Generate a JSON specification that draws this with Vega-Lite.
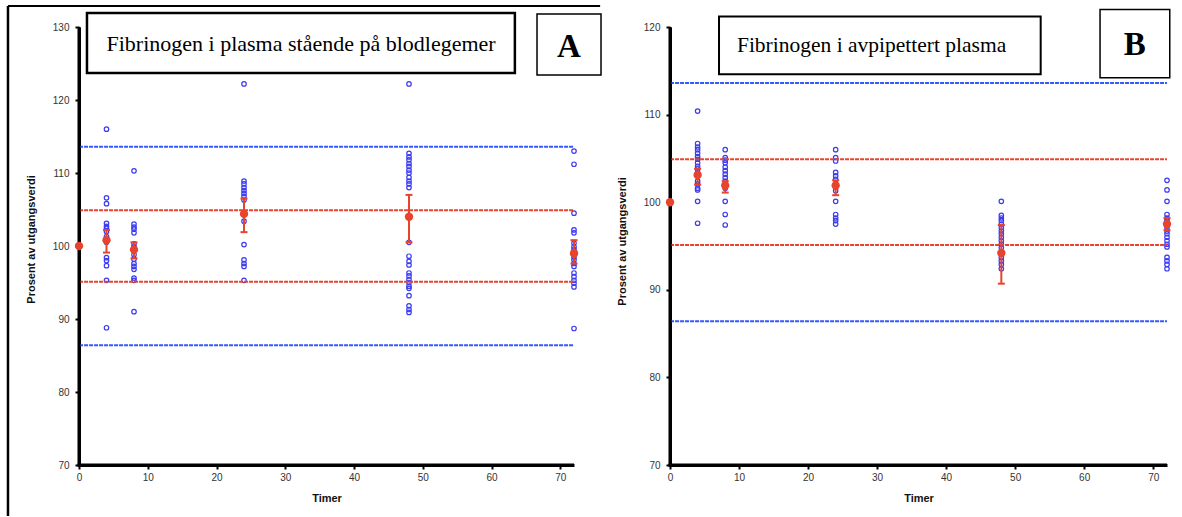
{
  "$schema": "https://vega.github.io/schema/vega-lite/v6.json",
  "padding": {"left": 6, "top": 4, "right": 0, "bottom": 0},
  "spacing": 14,
  "background": "white",
  "config": {
    "view": {"stroke": null},
    "axis": {
      "grid": false,
      "domainColor": "#000000",
      "domainWidth": 3,
      "tickColor": "#000000",
      "tickSize": 4,
      "tickWidth": 2,
      "labelFont": "Liberation Sans",
      "labelFontSize": 10,
      "labelColor": "#333",
      "titleFont": "Liberation Sans",
      "titleFontSize": 11,
      "titleFontWeight": "bold",
      "titleColor": "#111"
    },
    "axisY": {"labelPadding": 6},
    "axisX": {"labelPadding": 3, "titlePadding": 10, "labelFlush": false}
  },
  "datasets": {
    "refs": [
      {"v": 113.6, "kind": "ytre"},
      {"v": 86.4, "kind": "ytre"},
      {"v": 104.9, "kind": "indre"},
      {"v": 95.1, "kind": "indre"}
    ],
    "ptsA": [
      {"t": 4, "v": 116.0}, {"t": 4, "v": 106.6}, {"t": 4, "v": 105.8}, {"t": 4, "v": 103.1}, {"t": 4, "v": 102.7},
      {"t": 4, "v": 102.4}, {"t": 4, "v": 102.0}, {"t": 4, "v": 101.3}, {"t": 4, "v": 100.5}, {"t": 4, "v": 98.4},
      {"t": 4, "v": 98.0}, {"t": 4, "v": 97.3}, {"t": 4, "v": 95.3}, {"t": 4, "v": 88.8},
      {"t": 8, "v": 110.3}, {"t": 8, "v": 103.0}, {"t": 8, "v": 102.6}, {"t": 8, "v": 102.3}, {"t": 8, "v": 101.8},
      {"t": 8, "v": 100.3}, {"t": 8, "v": 99.9}, {"t": 8, "v": 98.8}, {"t": 8, "v": 98.2}, {"t": 8, "v": 97.6},
      {"t": 8, "v": 97.2}, {"t": 8, "v": 96.8}, {"t": 8, "v": 95.6}, {"t": 8, "v": 95.3}, {"t": 8, "v": 91.0},
      {"t": 24, "v": 122.2}, {"t": 24, "v": 108.9}, {"t": 24, "v": 108.5}, {"t": 24, "v": 108.0}, {"t": 24, "v": 107.6},
      {"t": 24, "v": 107.2}, {"t": 24, "v": 106.8}, {"t": 24, "v": 106.3}, {"t": 24, "v": 103.4}, {"t": 24, "v": 100.2},
      {"t": 24, "v": 98.1}, {"t": 24, "v": 97.6}, {"t": 24, "v": 97.2}, {"t": 24, "v": 95.3},
      {"t": 48, "v": 122.2}, {"t": 48, "v": 112.7}, {"t": 48, "v": 112.2}, {"t": 48, "v": 111.8}, {"t": 48, "v": 111.3},
      {"t": 48, "v": 110.9}, {"t": 48, "v": 110.4}, {"t": 48, "v": 110.0}, {"t": 48, "v": 109.4}, {"t": 48, "v": 108.9},
      {"t": 48, "v": 108.5}, {"t": 48, "v": 108.0}, {"t": 48, "v": 100.5}, {"t": 48, "v": 98.6}, {"t": 48, "v": 97.9},
      {"t": 48, "v": 97.4}, {"t": 48, "v": 96.3}, {"t": 48, "v": 95.9}, {"t": 48, "v": 95.4}, {"t": 48, "v": 95.0},
      {"t": 48, "v": 94.5}, {"t": 48, "v": 94.2}, {"t": 48, "v": 93.2}, {"t": 48, "v": 91.8}, {"t": 48, "v": 91.3},
      {"t": 48, "v": 90.9},
      {"t": 72, "v": 113.0}, {"t": 72, "v": 111.2}, {"t": 72, "v": 104.5}, {"t": 72, "v": 102.2}, {"t": 72, "v": 101.8},
      {"t": 72, "v": 100.4}, {"t": 72, "v": 99.9}, {"t": 72, "v": 99.5}, {"t": 72, "v": 99.0}, {"t": 72, "v": 98.5},
      {"t": 72, "v": 98.1}, {"t": 72, "v": 97.6}, {"t": 72, "v": 97.2}, {"t": 72, "v": 96.3}, {"t": 72, "v": 95.8},
      {"t": 72, "v": 95.3}, {"t": 72, "v": 94.9}, {"t": 72, "v": 94.4}, {"t": 72, "v": 88.7}
    ],
    "meanA": [
      {"t": 0, "m": 100.0},
      {"t": 4, "m": 100.8, "lo": 99.1, "hi": 102.2},
      {"t": 8, "m": 99.5, "lo": 98.3, "hi": 100.5},
      {"t": 24, "m": 104.4, "lo": 101.9, "hi": 106.5},
      {"t": 48, "m": 104.0, "lo": 100.5, "hi": 107.0},
      {"t": 72, "m": 99.0, "lo": 97.6, "hi": 100.8}
    ],
    "ptsB": [
      {"t": 4, "v": 110.4}, {"t": 4, "v": 106.7}, {"t": 4, "v": 106.3}, {"t": 4, "v": 106.0}, {"t": 4, "v": 105.6},
      {"t": 4, "v": 105.2}, {"t": 4, "v": 104.9}, {"t": 4, "v": 104.5}, {"t": 4, "v": 104.1}, {"t": 4, "v": 103.8},
      {"t": 4, "v": 103.4}, {"t": 4, "v": 102.4}, {"t": 4, "v": 102.1}, {"t": 4, "v": 101.6}, {"t": 4, "v": 101.4},
      {"t": 4, "v": 100.1}, {"t": 4, "v": 97.6},
      {"t": 8, "v": 106.0}, {"t": 8, "v": 105.1}, {"t": 8, "v": 104.8}, {"t": 8, "v": 104.5}, {"t": 8, "v": 104.0},
      {"t": 8, "v": 103.6}, {"t": 8, "v": 103.2}, {"t": 8, "v": 102.8}, {"t": 8, "v": 102.4}, {"t": 8, "v": 101.6},
      {"t": 8, "v": 100.1}, {"t": 8, "v": 98.6}, {"t": 8, "v": 97.4},
      {"t": 24, "v": 106.0}, {"t": 24, "v": 105.1}, {"t": 24, "v": 104.7}, {"t": 24, "v": 103.4}, {"t": 24, "v": 103.0},
      {"t": 24, "v": 102.6}, {"t": 24, "v": 101.3}, {"t": 24, "v": 100.1}, {"t": 24, "v": 98.6}, {"t": 24, "v": 98.2},
      {"t": 24, "v": 97.9}, {"t": 24, "v": 97.5},
      {"t": 48, "v": 100.1}, {"t": 48, "v": 98.5}, {"t": 48, "v": 98.2}, {"t": 48, "v": 97.9}, {"t": 48, "v": 97.5},
      {"t": 48, "v": 97.1}, {"t": 48, "v": 96.7}, {"t": 48, "v": 96.4}, {"t": 48, "v": 96.0}, {"t": 48, "v": 95.6},
      {"t": 48, "v": 95.2}, {"t": 48, "v": 94.8}, {"t": 48, "v": 93.7}, {"t": 48, "v": 93.3}, {"t": 48, "v": 92.9},
      {"t": 48, "v": 92.4},
      {"t": 72, "v": 102.5}, {"t": 72, "v": 101.4}, {"t": 72, "v": 100.1}, {"t": 72, "v": 98.6}, {"t": 72, "v": 98.2},
      {"t": 72, "v": 97.9}, {"t": 72, "v": 97.5}, {"t": 72, "v": 97.1}, {"t": 72, "v": 96.7}, {"t": 72, "v": 96.4},
      {"t": 72, "v": 96.0}, {"t": 72, "v": 95.6}, {"t": 72, "v": 95.2}, {"t": 72, "v": 94.9}, {"t": 72, "v": 93.7},
      {"t": 72, "v": 93.3}, {"t": 72, "v": 92.9}, {"t": 72, "v": 92.4}
    ],
    "meanB": [
      {"t": 0, "m": 100.0},
      {"t": 4, "m": 103.1, "lo": 102.0, "hi": 103.8},
      {"t": 8, "m": 101.9, "lo": 101.1, "hi": 102.4},
      {"t": 24, "m": 101.9, "lo": 100.8, "hi": 102.5},
      {"t": 48, "m": 94.2, "lo": 90.7, "hi": 97.4},
      {"t": 72, "m": 97.5, "lo": 96.8, "hi": 98.2}
    ],
    "titleA": [{"label": "Fibrinogen i plasma stående på blodlegemer", "tag": "A"}],
    "titleB": [{"label": "Fibrinogen i avpipettert plasma", "tag": "B"}]
  },
  "hconcat": [
    {
      "width": 495,
      "height": 438,
      "layer": [
        {
          "data": {"name": "ptsA"},
          "mark": {"type": "point", "filled": false, "size": 20, "strokeWidth": 1.2, "color": "#3b3bf2", "opacity": 1},
          "encoding": {
            "x": {"field": "t", "type": "quantitative", "scale": {"domain": [0, 72], "nice": false, "zero": false},
                  "axis": {"values": [0, 10, 20, 30, 40, 50, 60, 70], "title": "Timer"}},
            "y": {"field": "v", "type": "quantitative", "scale": {"domain": [70, 130], "nice": false, "zero": false},
                  "axis": {"values": [70, 80, 90, 100, 110, 120, 130], "title": "Prosent av utgangsverdi", "titleX": -48, "titleY": 212, "titleBaseline": "middle"}}
          }
        },
        {
          "data": {"name": "refs"},
          "mark": {"type": "rule", "strokeWidth": 2, "strokeDash": [4, 1]},
          "encoding": {
            "y": {"field": "v", "type": "quantitative"},
            "x": {"datum": 0.01},
            "x2": {"datum": 72},
            "color": {"field": "kind", "type": "nominal", "scale": {"domain": ["ytre", "indre"], "range": ["#3458ff", "#e8432d"]}, "legend": null}
          }
        },
        {
          "data": {"name": "titleA"},
          "mark": {"type": "rect", "fill": "#000000", "opacity": 1, "strokeWidth": 0},
          "encoding": {"x": {"datum": -0.22}, "x2": {"datum": 0.22}, "y": {"datum": 69.8}, "y2": {"datum": 130}}
        },
        {
          "data": {"name": "titleA"},
          "mark": {"type": "rect", "fill": "#000000", "opacity": 1, "strokeWidth": 0},
          "encoding": {"x": {"datum": -0.22}, "x2": {"datum": 72}, "y": {"datum": 69.8}, "y2": {"datum": 70.2}}
        },
        {
          "data": {"name": "meanA"},
          "transform": [{"filter": "isValid(datum.lo)"}],
          "mark": {"type": "rule", "color": "#e8432d", "strokeWidth": 2},
          "encoding": {"x": {"field": "t", "type": "quantitative"}, "y": {"field": "lo", "type": "quantitative"}, "y2": {"field": "hi"}}
        },
        {
          "data": {"name": "meanA"},
          "transform": [{"filter": "isValid(datum.lo)"}],
          "mark": {"type": "tick", "orient": "horizontal", "size": 7, "thickness": 2, "color": "#e8432d", "opacity": 1},
          "encoding": {"x": {"field": "t", "type": "quantitative"}, "y": {"field": "lo", "type": "quantitative"}}
        },
        {
          "data": {"name": "meanA"},
          "transform": [{"filter": "isValid(datum.hi)"}],
          "mark": {"type": "tick", "orient": "horizontal", "size": 7, "thickness": 2, "color": "#e8432d", "opacity": 1},
          "encoding": {"x": {"field": "t", "type": "quantitative"}, "y": {"field": "hi", "type": "quantitative"}}
        },
        {
          "data": {"name": "meanA"},
          "mark": {"type": "circle", "size": 70, "color": "#e8432d", "opacity": 1},
          "encoding": {"x": {"field": "t", "type": "quantitative"}, "y": {"field": "m", "type": "quantitative"}}
        },
        {
          "data": {"name": "titleA"},
          "mark": {"type": "rect", "fill": "white", "stroke": "black", "strokeWidth": 2.5},
          "encoding": {"x": {"datum": 1.16}, "x2": {"datum": 63.4}, "y": {"datum": 131.92}, "y2": {"datum": 123.7}}
        },
        {
          "data": {"name": "titleA"},
          "mark": {"type": "text", "font": "Liberation Serif", "fontSize": 22, "color": "black", "align": "center", "baseline": "alphabetic"},
          "encoding": {"text": {"field": "label"}, "x": {"datum": 32.3}, "y": {"datum": 126.7}}
        },
        {
          "data": {"name": "titleA"},
          "mark": {"type": "rect", "fill": "white", "stroke": "black", "strokeWidth": 1.5},
          "encoding": {"x": {"datum": 66.62}, "x2": {"datum": 75.93}, "y": {"datum": 131.78}, "y2": {"datum": 123.42}}
        },
        {
          "data": {"name": "titleA"},
          "mark": {"type": "text", "font": "Liberation Serif", "fontSize": 33, "fontWeight": "bold", "color": "black", "align": "center", "baseline": "alphabetic"},
          "encoding": {"text": {"field": "tag"}, "x": {"datum": 71.27}, "y": {"datum": 125.9}}
        },
        {
          "data": {"name": "titleA"},
          "mark": {"type": "rule", "color": "black", "strokeWidth": 2},
          "encoding": {"x": {"datum": -10.33}, "x2": {"datum": 75.8}, "y": {"datum": 132.88}}
        },
        {
          "data": {"name": "titleA"},
          "mark": {"type": "rule", "color": "black", "strokeWidth": 2.5},
          "encoding": {"x": {"datum": -10.33}, "y": {"datum": 132.88}, "y2": {"datum": 63.0}}
        }
      ]
    },
    {
      "width": 497,
      "height": 438,
      "layer": [
        {
          "data": {"name": "ptsB"},
          "mark": {"type": "point", "filled": false, "size": 20, "strokeWidth": 1.2, "color": "#3b3bf2", "opacity": 1},
          "encoding": {
            "x": {"field": "t", "type": "quantitative", "scale": {"domain": [0, 72], "nice": false, "zero": false},
                  "axis": {"values": [0, 10, 20, 30, 40, 50, 60, 70], "title": "Timer"}},
            "y": {"field": "v", "type": "quantitative", "scale": {"domain": [70, 120], "nice": false, "zero": false},
                  "axis": {"values": [70, 80, 90, 100, 110, 120], "title": "Prosent av utgangsverdi", "titleX": -48, "titleY": 214, "titleBaseline": "middle"}}
          }
        },
        {
          "data": {"name": "refs"},
          "mark": {"type": "rule", "strokeWidth": 2, "strokeDash": [4, 1]},
          "encoding": {
            "y": {"field": "v", "type": "quantitative"},
            "x": {"datum": 0.01},
            "x2": {"datum": 72},
            "color": {"field": "kind", "type": "nominal", "scale": {"domain": ["ytre", "indre"], "range": ["#3458ff", "#e8432d"]}, "legend": null}
          }
        },
        {
          "data": {"name": "titleB"},
          "mark": {"type": "rect", "fill": "#000000", "opacity": 1, "strokeWidth": 0},
          "encoding": {"x": {"datum": -0.22}, "x2": {"datum": 0.22}, "y": {"datum": 69.83}, "y2": {"datum": 120}}
        },
        {
          "data": {"name": "titleB"},
          "mark": {"type": "rect", "fill": "#000000", "opacity": 1, "strokeWidth": 0},
          "encoding": {"x": {"datum": -0.22}, "x2": {"datum": 72}, "y": {"datum": 69.83}, "y2": {"datum": 70.17}}
        },
        {
          "data": {"name": "meanB"},
          "transform": [{"filter": "isValid(datum.lo)"}],
          "mark": {"type": "rule", "color": "#e8432d", "strokeWidth": 2},
          "encoding": {"x": {"field": "t", "type": "quantitative"}, "y": {"field": "lo", "type": "quantitative"}, "y2": {"field": "hi"}}
        },
        {
          "data": {"name": "meanB"},
          "transform": [{"filter": "isValid(datum.lo)"}],
          "mark": {"type": "tick", "orient": "horizontal", "size": 7, "thickness": 2, "color": "#e8432d", "opacity": 1},
          "encoding": {"x": {"field": "t", "type": "quantitative"}, "y": {"field": "lo", "type": "quantitative"}}
        },
        {
          "data": {"name": "meanB"},
          "transform": [{"filter": "isValid(datum.hi)"}],
          "mark": {"type": "tick", "orient": "horizontal", "size": 7, "thickness": 2, "color": "#e8432d", "opacity": 1},
          "encoding": {"x": {"field": "t", "type": "quantitative"}, "y": {"field": "hi", "type": "quantitative"}}
        },
        {
          "data": {"name": "meanB"},
          "mark": {"type": "circle", "size": 70, "color": "#e8432d", "opacity": 1},
          "encoding": {"x": {"field": "t", "type": "quantitative"}, "y": {"field": "m", "type": "quantitative"}}
        },
        {
          "data": {"name": "titleB"},
          "mark": {"type": "rect", "fill": "white", "stroke": "black", "strokeWidth": 2},
          "encoding": {"x": {"datum": 7.1}, "x2": {"datum": 53.7}, "y": {"datum": 121.2}, "y2": {"datum": 114.6}}
        },
        {
          "data": {"name": "titleB"},
          "mark": {"type": "text", "font": "Liberation Serif", "fontSize": 21.5, "color": "black", "align": "center", "baseline": "alphabetic"},
          "encoding": {"text": {"field": "label"}, "x": {"datum": 29.2}, "y": {"datum": 117.2}}
        },
        {
          "data": {"name": "titleB"},
          "mark": {"type": "rect", "fill": "white", "stroke": "black", "strokeWidth": 1.5},
          "encoding": {"x": {"datum": 62.3}, "x2": {"datum": 72.4}, "y": {"datum": 122.0}, "y2": {"datum": 114.2}}
        },
        {
          "data": {"name": "titleB"},
          "mark": {"type": "text", "font": "Liberation Serif", "fontSize": 33, "fontWeight": "bold", "color": "black", "align": "center", "baseline": "alphabetic"},
          "encoding": {"text": {"field": "tag"}, "x": {"datum": 67.34}, "y": {"datum": 116.85}}
        }
      ]
    }
  ]
}
